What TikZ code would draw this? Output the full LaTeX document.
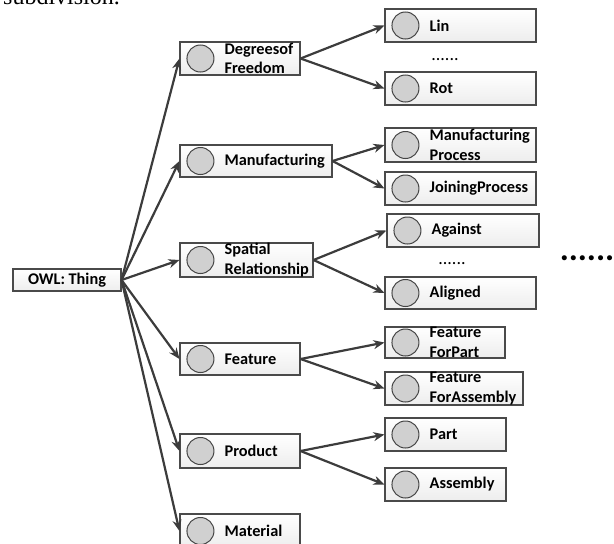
\documentclass[tikz,border=0pt]{standalone}
\usepackage{fontspec}
\setmainfont{Carlito}
\newfontfamily\serifpart{Liberation Serif}
\usetikzlibrary{arrows.meta,shadows}
\definecolor{arrcol}{HTML}{3C3C3C}
\definecolor{boxline}{HTML}{4A4A4A}
\definecolor{circline}{HTML}{454545}
\definecolor{circfill}{HTML}{D0D0D0}
\newcommand\clsnode[6]{%
  \node[clsbox, minimum width={#4pt-#2pt}, minimum height={#5pt-#3pt}] (#1) at ({(#2+#4)/2},{(#3+#5)/2}) {};
  \node[circ] (#1c) at ([xshift=21pt]#1.west) {};
  \node[lbl] (#1t) at ([xshift=45pt]#1.west) {#6};}
\begin{document}
\begin{tikzpicture}[x=1pt,y=-1pt,
  clsbox/.style={rectangle, draw=boxline, line width=1.1pt, top color=white, bottom color=gray!14,
    drop shadow={shadow xshift=1.3pt, shadow yshift=-1.3pt, opacity=0.4}, inner sep=0pt},
  circ/.style={circle, draw=circline, fill=circfill, line width=1pt, minimum size=27pt, inner sep=0pt},
  lbl/.style={font=\fontsize{16.3}{19.5}\selectfont\bfseries, align=left, inner sep=0pt, anchor=west},
  conn/.style={draw=arrcol, line width=2.2pt, -{Stealth[length=11pt,width=9pt]}},
  dots/.style={inner sep=0pt, anchor=base}]
\useasboundingbox (0,0) rectangle (614,544);

% clipped text line at the top
\node[dots, anchor=base west, font=\serifpart\fontsize{24}{24}\selectfont] (top) at (3,4) {subdivision.};

% root
\node[clsbox, minimum width=108pt, minimum height=22pt, font=\fontsize{16.3}{19.5}\selectfont\bfseries] (owl) at (67,280) {OWL: Thing};

% middle column
\clsnode{dof}{180}{42}{300}{75}{Degreesof\\Freedom}
\clsnode{mfg}{180}{145}{332}{177}{Manufacturing}
\clsnode{spa}{180}{243}{313}{277}{Spatial\\Relationship}
\clsnode{feat}{180}{343}{300}{375}{Feature}
\clsnode{prod}{180}{434}{300}{468}{Product}
\clsnode{mat}{180}{514}{300}{548}{Material}

% right column
\clsnode{lin}{385}{9}{536}{42}{Lin}
\clsnode{rot}{385}{72}{536}{105}{Rot}
\clsnode{mp}{385}{128}{536}{162}{Manufacturing\\Process}
\clsnode{jp}{385}{172}{536}{205}{JoiningProcess}
\clsnode{ag}{387}{214}{539}{247}{Against}
\clsnode{al}{385}{277}{536}{309}{Aligned}
\clsnode{ffp}{385}{327}{505}{358}{Feature\\ForPart}
\clsnode{ffa}{385}{372}{523}{405}{Feature\\ForAssembly}
\clsnode{part}{385}{418}{506}{451}{Part}
\clsnode{asm}{385}{468}{506}{501}{Assembly}

% ellipses
\node[dots, font=\fontsize{18}{18}\selectfont] (d1) at (445,60) {......};
\node[dots, font=\fontsize{18}{18}\selectfont] (d2) at (452,264) {......};
\node[dots, font=\fontsize{34}{34}\selectfont\bfseries] (d3) at (587,260) {......};

% connectors
\foreach \t in {dof,mfg,spa,feat,prod,mat}
  \draw[conn] (owl.east) -- (\t.west);
\draw[conn] (dof.east) -- (lin.west);
\draw[conn] (dof.east) -- (rot.west);
\draw[conn] (mfg.east) -- (mp.west);
\draw[conn] (mfg.east) -- (jp.west);
\draw[conn] (spa.east) -- (ag.west);
\draw[conn] (spa.east) -- (al.west);
\draw[conn] (feat.east) -- (ffp.west);
\draw[conn] (feat.east) -- (ffa.west);
\draw[conn] (prod.east) -- (part.west);
\draw[conn] (prod.east) -- (asm.west);
\end{tikzpicture}
\end{document}
